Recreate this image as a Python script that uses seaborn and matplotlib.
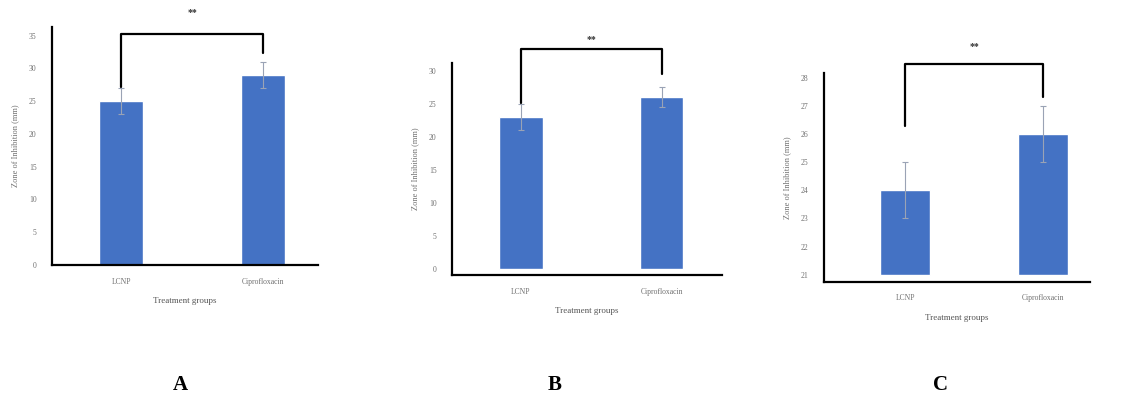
import matplotlib
matplotlib.use("Agg")
import matplotlib.pyplot as plt
import seaborn as sns
import pandas as pd
import numpy as np

sns.set_style("white")
plt.rcParams['font.family'] = ['Liberation Serif', 'DejaVu Serif']

groups = ["LCNP", "Ciprofloxacin"]
values_A = [25, 29]
errors_A = [2, 2]
values_B = [23, 26]
errors_B = [2, 1.5]
values_C = [24, 26]
errors_C = [1, 1]
ticks_A = [0, 5, 10, 15, 20, 25, 30, 35]
ticks_B = [0, 5, 10, 15, 20, 25, 30]
ticks_C = [21, 22, 23, 24, 25, 26, 27, 28]
bracket_A = [27.2, 32.3, 35.3]
bracket_B = [25.1, 29.5, 33.3]
bracket_C = [26.3, 27.3, 28.5]
star_y = [38.5, 34.8, 29.1]
panel_letters = ["A", "B", "C"]

W, H = 1129, 412
fig = plt.figure(figsize=(W / 100, H / 100), dpi=100)
fig.patch.set_facecolor("white")

def px_axes(left, right, top, bottom):
    return fig.add_axes([left / W, 1 - bottom / H, (right - left) / W, (bottom - top) / H])

specs = [
    dict(box=(52, 318, 27, 265), ylim=(0, 36.3), xlim=(-0.486, 1.384), width=0.31,
         vals=values_A, errs=errors_A, ticks=ticks_A, br=bracket_A, star=star_y[0], bottom=0),
    dict(box=(452, 722, 63, 275), ylim=(-0.85, 31.2), xlim=(-0.49, 1.43), width=0.31,
         vals=values_B, errs=errors_B, ticks=ticks_B, br=bracket_B, star=star_y[1], bottom=0),
    dict(box=(824, 1090, 73, 282), ylim=(20.74, 28.17), xlim=(-0.587, 1.34), width=0.36,
         vals=values_C, errs=errors_C, ticks=ticks_C, br=bracket_C, star=star_y[2], bottom=21),
]

letter_x = [180, 555, 940]

for i, s in enumerate(specs):
    ax = px_axes(*s["box"])
    df = pd.DataFrame({"group": groups, "value": np.array(s["vals"], dtype=float) - s["bottom"]})
    sns.barplot(data=df, x="group", y="value", ax=ax, color="#4472C4", saturation=1,
                width=s["width"], errorbar=None, bottom=s["bottom"])
    ax.errorbar([0, 1], s["vals"], yerr=s["errs"], fmt="none", ecolor="#9aa3b5",
                elinewidth=0.8, capsize=2, capthick=0.8, zorder=3)
    ax.set_xlim(*s["xlim"])
    ax.set_ylim(*s["ylim"])
    ax.set_yticks(s["ticks"])
    ax.set_yticklabels([str(t) for t in s["ticks"]])
    ax.tick_params(axis="both", length=0, labelsize=5.5, labelcolor="#707070")
    ax.tick_params(axis="y", pad=11)
    ax.tick_params(axis="x", pad=9)
    for sp in ["top", "right"]:
        ax.spines[sp].set_visible(False)
    for sp in ["left", "bottom"]:
        ax.spines[sp].set_color("black")
        ax.spines[sp].set_linewidth(1.6)
    ax.set_xlabel("Treatment groups", fontsize=6.5, color="#555555", labelpad=8)
    ax.set_ylabel("Zone of Inhibition (mm)", fontsize=6, color="#707070", labelpad=7)
    ax.grid(False)
    # significance bracket
    lb, rb, top = s["br"]
    ax.plot([0, 0, 1, 1], [lb, top, top, rb], color="black", lw=1.6, clip_on=False, zorder=4)
    ax.text(0.5, s["star"], "**", ha="center", va="center", fontsize=7, color="#333333",
            fontweight="bold", clip_on=False)
    fig.text(letter_x[i] / W, 1 - 385 / H, panel_letters[i], ha="center", va="center",
             fontsize=15, fontweight="bold", color="black")

fig.savefig("out.png", dpi=100, facecolor="white")
